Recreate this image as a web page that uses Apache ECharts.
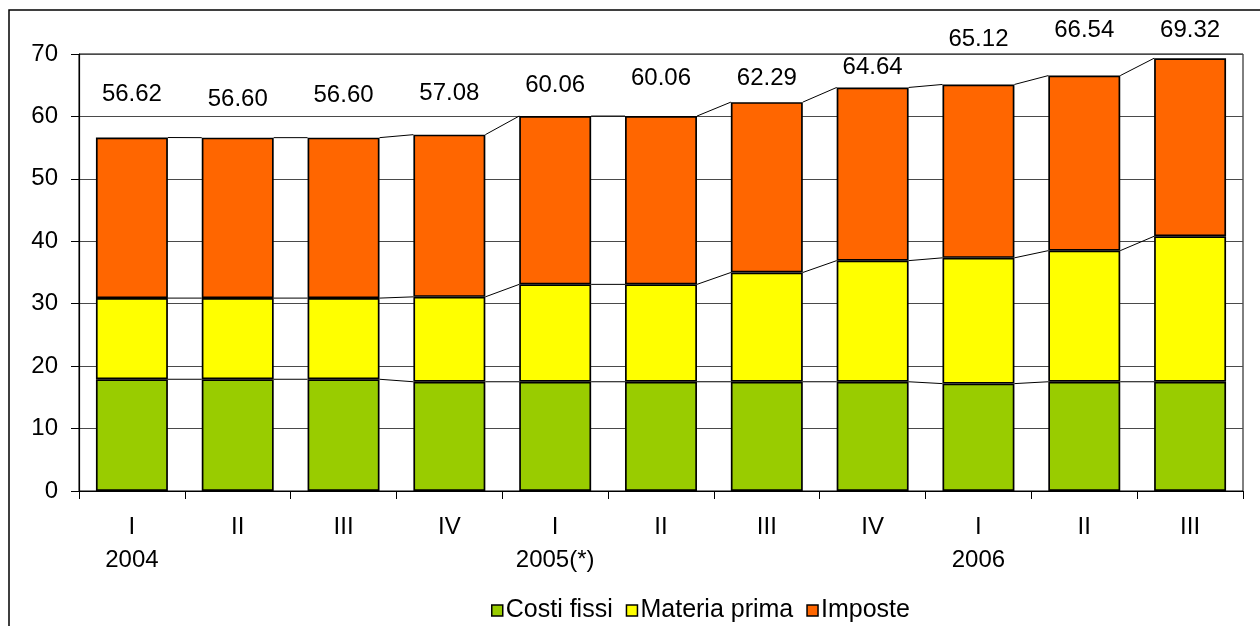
<!DOCTYPE html>
<html>
<head>
<meta charset="utf-8">
<script src="https://cdn.jsdelivr.net/npm/echarts@6/dist/echarts.min.js"></script>
<style>
html,body{margin:0;padding:0;background:#fff;}
#chart{width:1260px;height:626px;}
</style>
</head>
<body>
<div id="chart"></div>
<script>
// ---- data ----
var quarters = ['I','II','III','IV','I','II','III','IV','I','II','III'];
var years = ['2004','','','','2005(*)','','','','2006','',''];
var seriesNames = ['Costi fissi','Materia prima','Imposte'];
var costiFissi = [17.9,17.9,17.9,17.5,17.5,17.5,17.5,17.5,17.2,17.5,17.5];
var materiaPrima = [13.0,13.0,13.0,13.6,15.6,15.6,17.5,19.4,20.15,21.0,23.3];
var imposte = [25.72,25.70,25.70,25.98,26.96,26.96,27.29,27.74,27.77,28.04,28.52];
var totalLabels = ['56.62','56.60','56.60','57.08','60.06','60.06','62.29','64.64','65.12','66.54','69.32'];
var yTicks = [0,10,20,30,40,50,60,70];

// ---- style ----
var colors = ['#99CC00','#FFFF00','#FF6600'];
var labelLift = [43,38,42,41,31,38,24,20,45,45,28]; // px above bar top (label centre)
var FONT = 'Liberation Sans, Arial, sans-serif';
var BAR_FRAC = 0.68;

var chart = echarts.init(document.getElementById('chart'));

// stack levels for series lines
var lv1 = costiFissi.map(function(v){return v;});
var lv2 = costiFissi.map(function(v,i){return v + materiaPrima[i];});
var lv3 = lv2.map(function(v,i){return v + imposte[i];});
var linkData = [];
for (var i = 0; i < quarters.length - 1; i++) {
  linkData.push([i, lv1[i], lv2[i], lv3[i], lv1[i+1], lv2[i+1], lv3[i+1]]);
}

var barStyle = function(c){ return {color:c, borderColor:'#000', borderWidth:1.7}; };

var option = {
  animation:false,
  backgroundColor:'#fff',
  textStyle:{fontFamily:FONT},
  graphic:[{
    type:'rect', silent:true, z:-10,
    shape:{x:9, y:10, width:1400, height:800},
    style:{fill:'none', stroke:'#000', lineWidth:1.5}
  }],
  grid:{left:79, right:17, top:54, bottom:135, show:true, borderColor:'#000', borderWidth:1, backgroundColor:'transparent'},
  legend:{
    data:seriesNames,
    top:593, left:486,
    icon:'rect', itemWidth:11, itemHeight:11, itemGap:13,
    textStyle:{fontSize:25, color:'#000', fontFamily:FONT, padding:[0,0,0,-2]},
    itemStyle:{borderColor:'#000', borderWidth:1.5}
  },
  xAxis:{
    type:'category',
    data:quarters,
    boundaryGap:true,
    axisLine:{lineStyle:{color:'#000', width:1.2}},
    axisTick:{show:true, interval:0, length:8, lineStyle:{color:'#000'}},
    axisLabel:{
      interval:0, margin:20, color:'#000', fontSize:24, lineHeight:33, fontFamily:FONT,
      formatter:function(v, idx){ return v + '\n' + (years[idx] || ' '); }
    },
    splitLine:{show:false}
  },
  yAxis:{
    type:'value', min:yTicks[0], max:yTicks[yTicks.length-1], interval:10,
    axisLine:{show:true, lineStyle:{color:'#000', width:1.2}},
    axisTick:{show:true, length:8, lineStyle:{color:'#000'}},
    axisLabel:{margin:21, color:'#000', fontSize:24, fontFamily:FONT},
    splitLine:{show:true, lineStyle:{color:'#4a4a4a', width:1}}
  },
  series:[
    {name:seriesNames[0], type:'bar', stack:'s', barWidth:(BAR_FRAC*100)+'%', data:costiFissi, itemStyle:barStyle(colors[0]), z:3},
    {name:seriesNames[1], type:'bar', stack:'s', data:materiaPrima, itemStyle:barStyle(colors[1]), z:3},
    {name:seriesNames[2], type:'bar', stack:'s', itemStyle:barStyle(colors[2]), z:3,
     data:imposte.map(function(v,i){
       return {value:v, label:{show:true, position:'top', distance:0, offset:[0, -(labelLift[i]-13)],
         formatter:totalLabels[i], fontSize:24, color:'#000', fontFamily:FONT, lineHeight:26}};
     })
    },
    {
      name:'links', type:'custom', z:4, silent:true,
      data:linkData,
      encode:{x:0, y:[1,2,3,4,5,6]},
      renderItem:function(params, api){
        var idx = api.value(0);
        var half = api.size([1,0])[0] * BAR_FRAC / 2;
        var kids = [];
        for (var k = 1; k <= 3; k++) {
          var a = api.coord([idx, api.value(k)]);
          var b = api.coord([idx+1, api.value(k+3)]);
          kids.push({type:'line', shape:{x1:a[0]+half, y1:a[1], x2:b[0]-half, y2:b[1]},
            style:{stroke:'#000', lineWidth:1}});
        }
        return {type:'group', children:kids};
      }
    }
  ]
};
chart.setOption(option);
</script>
</body>
</html>
